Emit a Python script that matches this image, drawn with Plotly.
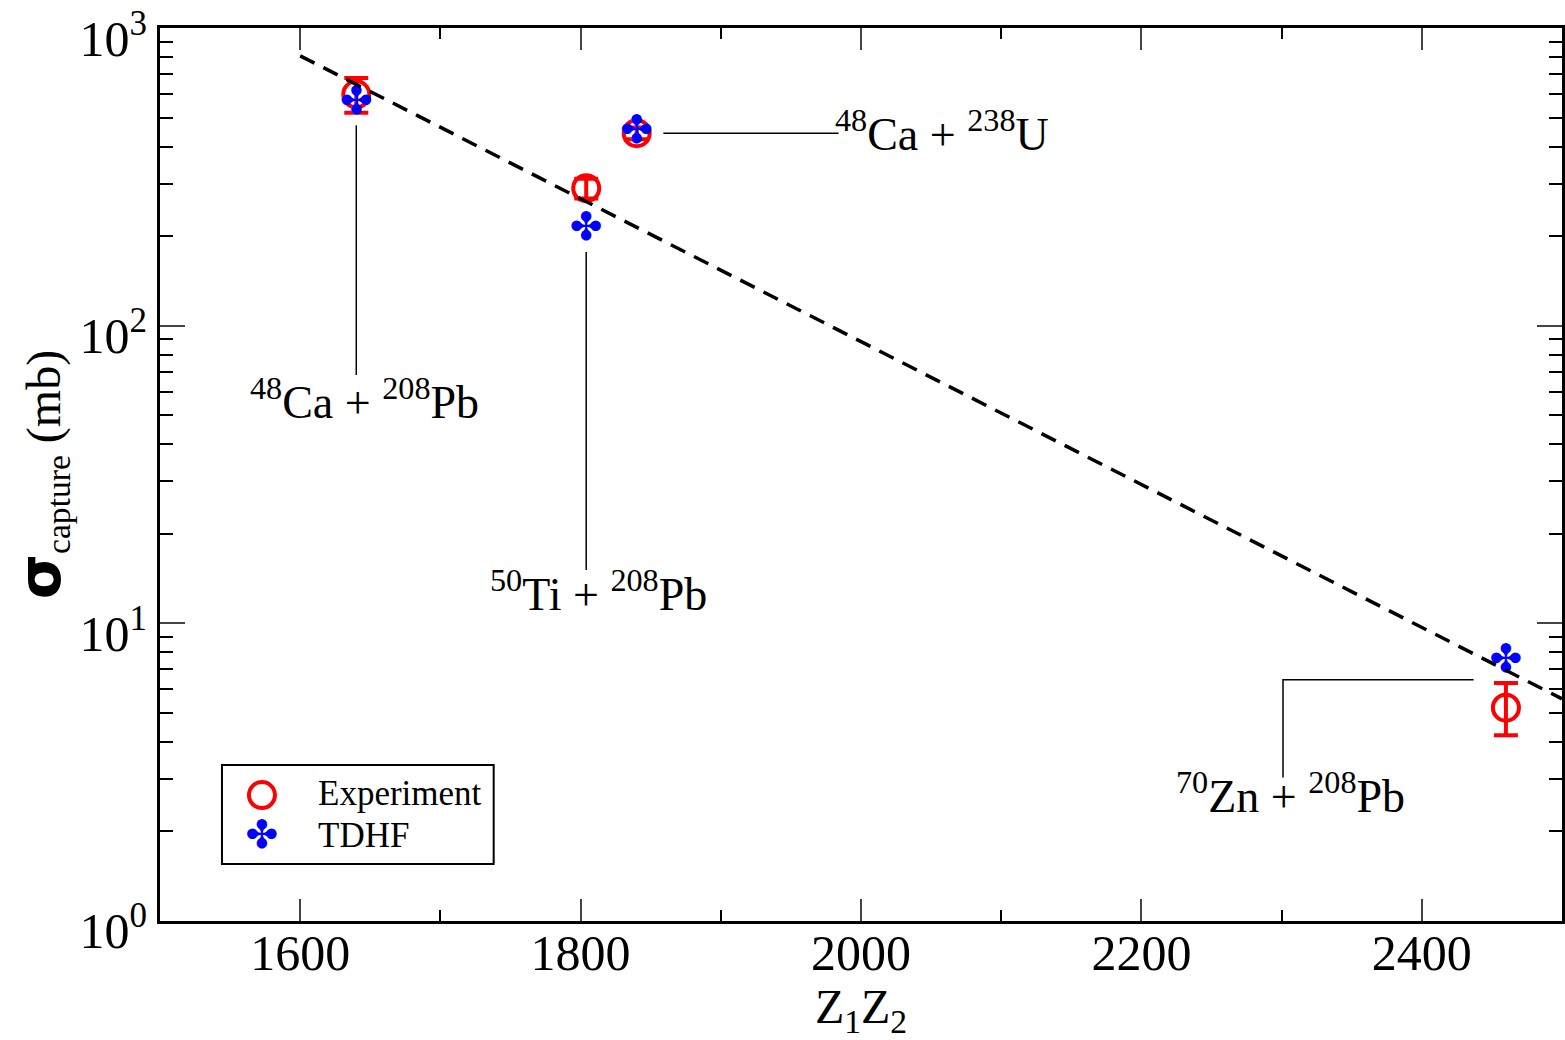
import numpy as np
import plotly.graph_objects as go

# ---- data ----
zz = [1640, 1804, 1840, 2460]                 # Z1*Z2
sigma_exp = [600, 290, 444, 5.2]              # experimental capture cross-section (mb)
err_plus = [80, 22, 20, 1.1]
err_minus = [80, 22, 20, 1.0]
sigma_tdhf = [556, 210, 444, 7.4]             # TDHF capture cross-section (mb)

fit_x = [1600, 2500]                          # dashed exponential trend
fit_y = [808, 5.57]

reaction_labels = [
    "<sup>48</sup>Ca + <sup>208</sup>Pb",
    "<sup>50</sup>Ti + <sup>208</sup>Pb",
    "<sup>48</sup>Ca + <sup>238</sup>U",
    "<sup>70</sup>Zn + <sup>208</sup>Pb",
]
label_x = [1646, 1813, 2058, 2306]
label_y = [56.7, 12.85, 450, 2.69]

leader_x = [[1640, 1640], [1804, 1804], [1859, 1984], [2437, 2301, 2301]]
leader_y = [[472, 68.3], [177, 15.1], [444, 444], [6.46, 6.46, 3.03]]

y_tickvals = [1, 10, 100, 1000]
y_ticktext = ["10<sup>0</sup>", "10<sup>1</sup>", "10<sup>2</sup>", "10<sup>3</sup>"]
y_minor = [m * d for d in (1, 10, 100) for m in range(2, 10)]

SERIF = "Liberation Serif"
RED = "#ff0000"
BLUE = "#0000ff"

fig = go.Figure()

# leader lines
for lx, ly in zip(leader_x, leader_y):
    fig.add_trace(go.Scatter(x=lx, y=ly, mode="lines", line=dict(color="black", width=1.5),
                             showlegend=False, hoverinfo="skip"))

# experiment
fig.add_trace(go.Scatter(
    x=zz, y=sigma_exp, mode="markers", name="Experiment",
    marker=dict(symbol="circle-open", size=26, line=dict(color=RED, width=4), color=RED),
    error_y=dict(type="data", array=err_plus, arrayminus=err_minus, color=RED,
                 thickness=4, width=12),
    showlegend=False))

# TDHF (clover glyph)
fig.add_trace(go.Scatter(
    x=zz, y=sigma_tdhf, mode="text", name="TDHF", text=["\u2724"] * len(zz),
    textposition="middle center",
    textfont=dict(family="DejaVu Sans", size=39, color=BLUE),
    showlegend=False))

# fit line
fig.add_trace(go.Scatter(x=fit_x, y=fit_y, mode="lines",
                         line=dict(color="black", width=3.5, dash="16px,10px"),
                         showlegend=False, hoverinfo="skip"))

# labels
for t, lx, ly in zip(reaction_labels, label_x, label_y):
    fig.add_annotation(x=lx, y=np.log10(ly), xref="x", yref="y", text=t, showarrow=False,
                       font=dict(family=SERIF, size=46, color="black"),
                       xanchor="center", yanchor="middle")

# manual legend (overlay axes in [0,1])
fig.add_trace(go.Scatter(x=[0.0727], y=[0.141], xaxis="x2", yaxis="y2", mode="markers",
                         marker=dict(symbol="circle-open", size=26, color=RED,
                                     line=dict(color=RED, width=4)),
                         showlegend=False, hoverinfo="skip"))
fig.add_trace(go.Scatter(x=[0.0727], y=[0.093], xaxis="x2", yaxis="y2", mode="text",
                         text=["\u2724"], textposition="middle center",
                         textfont=dict(family="DejaVu Sans", size=39, color=BLUE),
                         showlegend=False, hoverinfo="skip"))
fig.add_shape(type="rect", xref="paper", yref="paper", x0=0.0442, x1=0.238, y0=0.0638, y1=0.1747,
              line=dict(color="black", width=2), fillcolor="rgba(0,0,0,0)")
fig.add_annotation(x=0.1112, y=0.1433, xref="paper", yref="paper", text="Experiment",
                   showarrow=False, xanchor="left", yanchor="middle",
                   font=dict(family=SERIF, size=35, color="black"))
fig.add_annotation(x=0.1112, y=0.0952, xref="paper", yref="paper", text="TDHF",
                   showarrow=False, xanchor="left", yanchor="middle",
                   font=dict(family=SERIF, size=35, color="black"))

fig.update_layout(
    width=1565, height=1040,
    margin=dict(l=160, r=3, t=28, b=119),
    paper_bgcolor="white", plot_bgcolor="white",
    font=dict(family=SERIF, color="black"),
    xaxis=dict(range=[1500, 2500], tick0=0, dtick=200, ticks="inside", ticklen=22, tickwidth=2,
               showline=True, linewidth=3, linecolor="black", mirror="ticks", showgrid=False,
               zeroline=False, tickfont=dict(family=SERIF, size=50, color="black"),
               ticklabelstandoff=-14, automargin=False,
               minor=dict(dtick=100, ticks="inside", ticklen=11, tickwidth=2, tickcolor="black", showgrid=False),
               title=dict(text="Z<sub>1</sub>Z<sub>2</sub>", font=dict(family=SERIF, size=48), standoff=8)),
    yaxis=dict(type="log", range=[-0.001, 3.001], tickmode="array", tickvals=y_tickvals, ticktext=y_ticktext,
               ticks="inside", ticklen=25, tickwidth=2, showline=True, linewidth=3, linecolor="black",
               mirror="ticks", showgrid=False, zeroline=False, ticklabeloverflow="allow",
               automargin=False, ticklabelshift=10,
               tickfont=dict(family=SERIF, size=50, color="black"),
               minor=dict(tickmode="array", tickvals=y_minor, ticks="inside", ticklen=13, tickwidth=2,
                          tickcolor="black", showgrid=False),
               title=dict(text="<span style='font-family:DejaVu Sans;font-size:58px'><b>\u03c3</b></span>"
                               "<sub>capture</sub> (mb)",
                          font=dict(family=SERIF, size=48), standoff=4)),
    xaxis2=dict(overlaying="x", range=[0, 1], visible=False),
    yaxis2=dict(overlaying="y", range=[0, 1], visible=False),
)

fig.write_html("out.html")
